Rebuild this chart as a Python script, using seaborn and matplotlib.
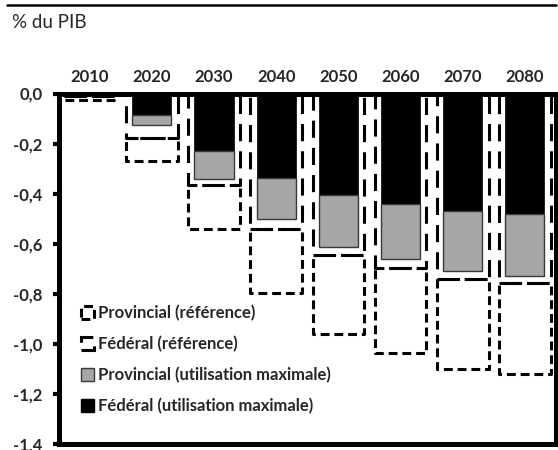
import matplotlib
matplotlib.use("Agg")
import matplotlib.pyplot as plt
import seaborn as sns
from matplotlib.patches import Patch
from matplotlib.lines import Line2D

# ---- data ----
years = ["2010", "2020", "2030", "2040", "2050", "2060", "2070", "2080"]
federal_max = [0.0, -0.085, -0.229, -0.336, -0.407, -0.440, -0.470, -0.483]
provincial_max = [0.0, -0.040, -0.111, -0.167, -0.206, -0.223, -0.240, -0.244]
federal_ref = [-0.010, -0.176, -0.366, -0.540, -0.647, -0.697, -0.741, -0.757]
provincial_ref = [-0.016, -0.093, -0.177, -0.257, -0.314, -0.340, -0.360, -0.363]
ytick_values = [0.0, -0.2, -0.4, -0.6, -0.8, -1.0, -1.2, -1.4]
ytick_labels = ["0,0", "-0,2", "-0,4", "-0,6", "-0,8", "-1,0", "-1,2", "-1,4"]
series_labels = ["Provincial (référence)", "Fédéral (référence)",
                 "Provincial (utilisation maximale)", "Fédéral (utilisation maximale)"]
unit_label = "% du PIB"

sns.set_theme(style="white")
plt.rcParams["font.family"] = ["Lato", "DejaVu Sans"]

W, H = 558, 450
fig = plt.figure(figsize=(W / 100, H / 100), dpi=100)
left, right, top, bottom = 58.5, 556, 93.5, 444
ax = fig.add_axes([left / W, 1 - bottom / H, (right - left) / W, (bottom - top) / H])

GRAY = "#a6a6a6"
dash_long = (0, (5.6, 3.3))
dash_short = (0, (2.9, 1.6))

# solid stacked bars
sns.barplot(x=years, y=federal_max, color="black", edgecolor="black",
            linewidth=0.5, width=0.63, errorbar=None, ax=ax)
sns.barplot(x=years, y=provincial_max, bottom=federal_max, color=GRAY,
            edgecolor="#3a3a3a", linewidth=1.0, width=0.63, errorbar=None, ax=ax)

# dashed stacked outlines (reference)
sns.barplot(x=years, y=federal_ref, fill=False, color="black", width=0.83,
            linewidth=2.2, linestyle=dash_long, joinstyle="round",
            errorbar=None, ax=ax)
sns.barplot(x=years, y=provincial_ref, bottom=federal_ref, fill=False,
            color="black", width=0.83, linewidth=2.2, linestyle=dash_short,
            joinstyle="round", errorbar=None, ax=ax)

ax.set_ylim(-1.4, 0)
ax.set_xlim(-0.5, len(years) - 0.5)
ax.set_yticks(ytick_values)
ax.set_yticklabels(ytick_labels, fontweight="bold", fontsize=12)
ax.xaxis.tick_top()
ax.set_xticks(range(len(years)))
ax.set_xticklabels(years, fontweight="bold", fontsize=12)
ax.tick_params(axis="x", top=True, bottom=False, length=0, pad=6)
ax.tick_params(axis="y", left=True, direction="out", length=4.3, width=3,
               color="black", pad=7)
ax.set_xlabel("")
ax.set_ylabel("")
for s in ax.spines.values():
    s.set_visible(True)
    s.set_color("black")
    s.set_linewidth(3.6)

handles = [
    Patch(facecolor="none", edgecolor="black", linewidth=2.2, linestyle=dash_short),
    Patch(facecolor="none", edgecolor="black", linewidth=2.2, linestyle=dash_long),
    Patch(facecolor=GRAY, edgecolor="#3a3a3a", linewidth=1.0),
    Patch(facecolor="black", edgecolor="black", linewidth=1.0),
]
leg = ax.legend(handles, series_labels, loc="center left",
                bbox_to_anchor=(0.045, 0.241), frameon=False,
                prop={"weight": "bold", "size": 12},
                handlelength=0.8, handleheight=0.8, handletextpad=0.2,
                labelspacing=0.88, borderpad=0, borderaxespad=0)

fig.add_artist(Line2D([7 / W, 556 / W], [1 - 5.3 / H] * 2, color="black",
                      lw=1.8, transform=fig.transFigure))
fig.text(12 / W, 1 - 22 / H, unit_label, ha="left", va="center", fontsize=13.5)

fig.savefig("out.png", dpi=100)
